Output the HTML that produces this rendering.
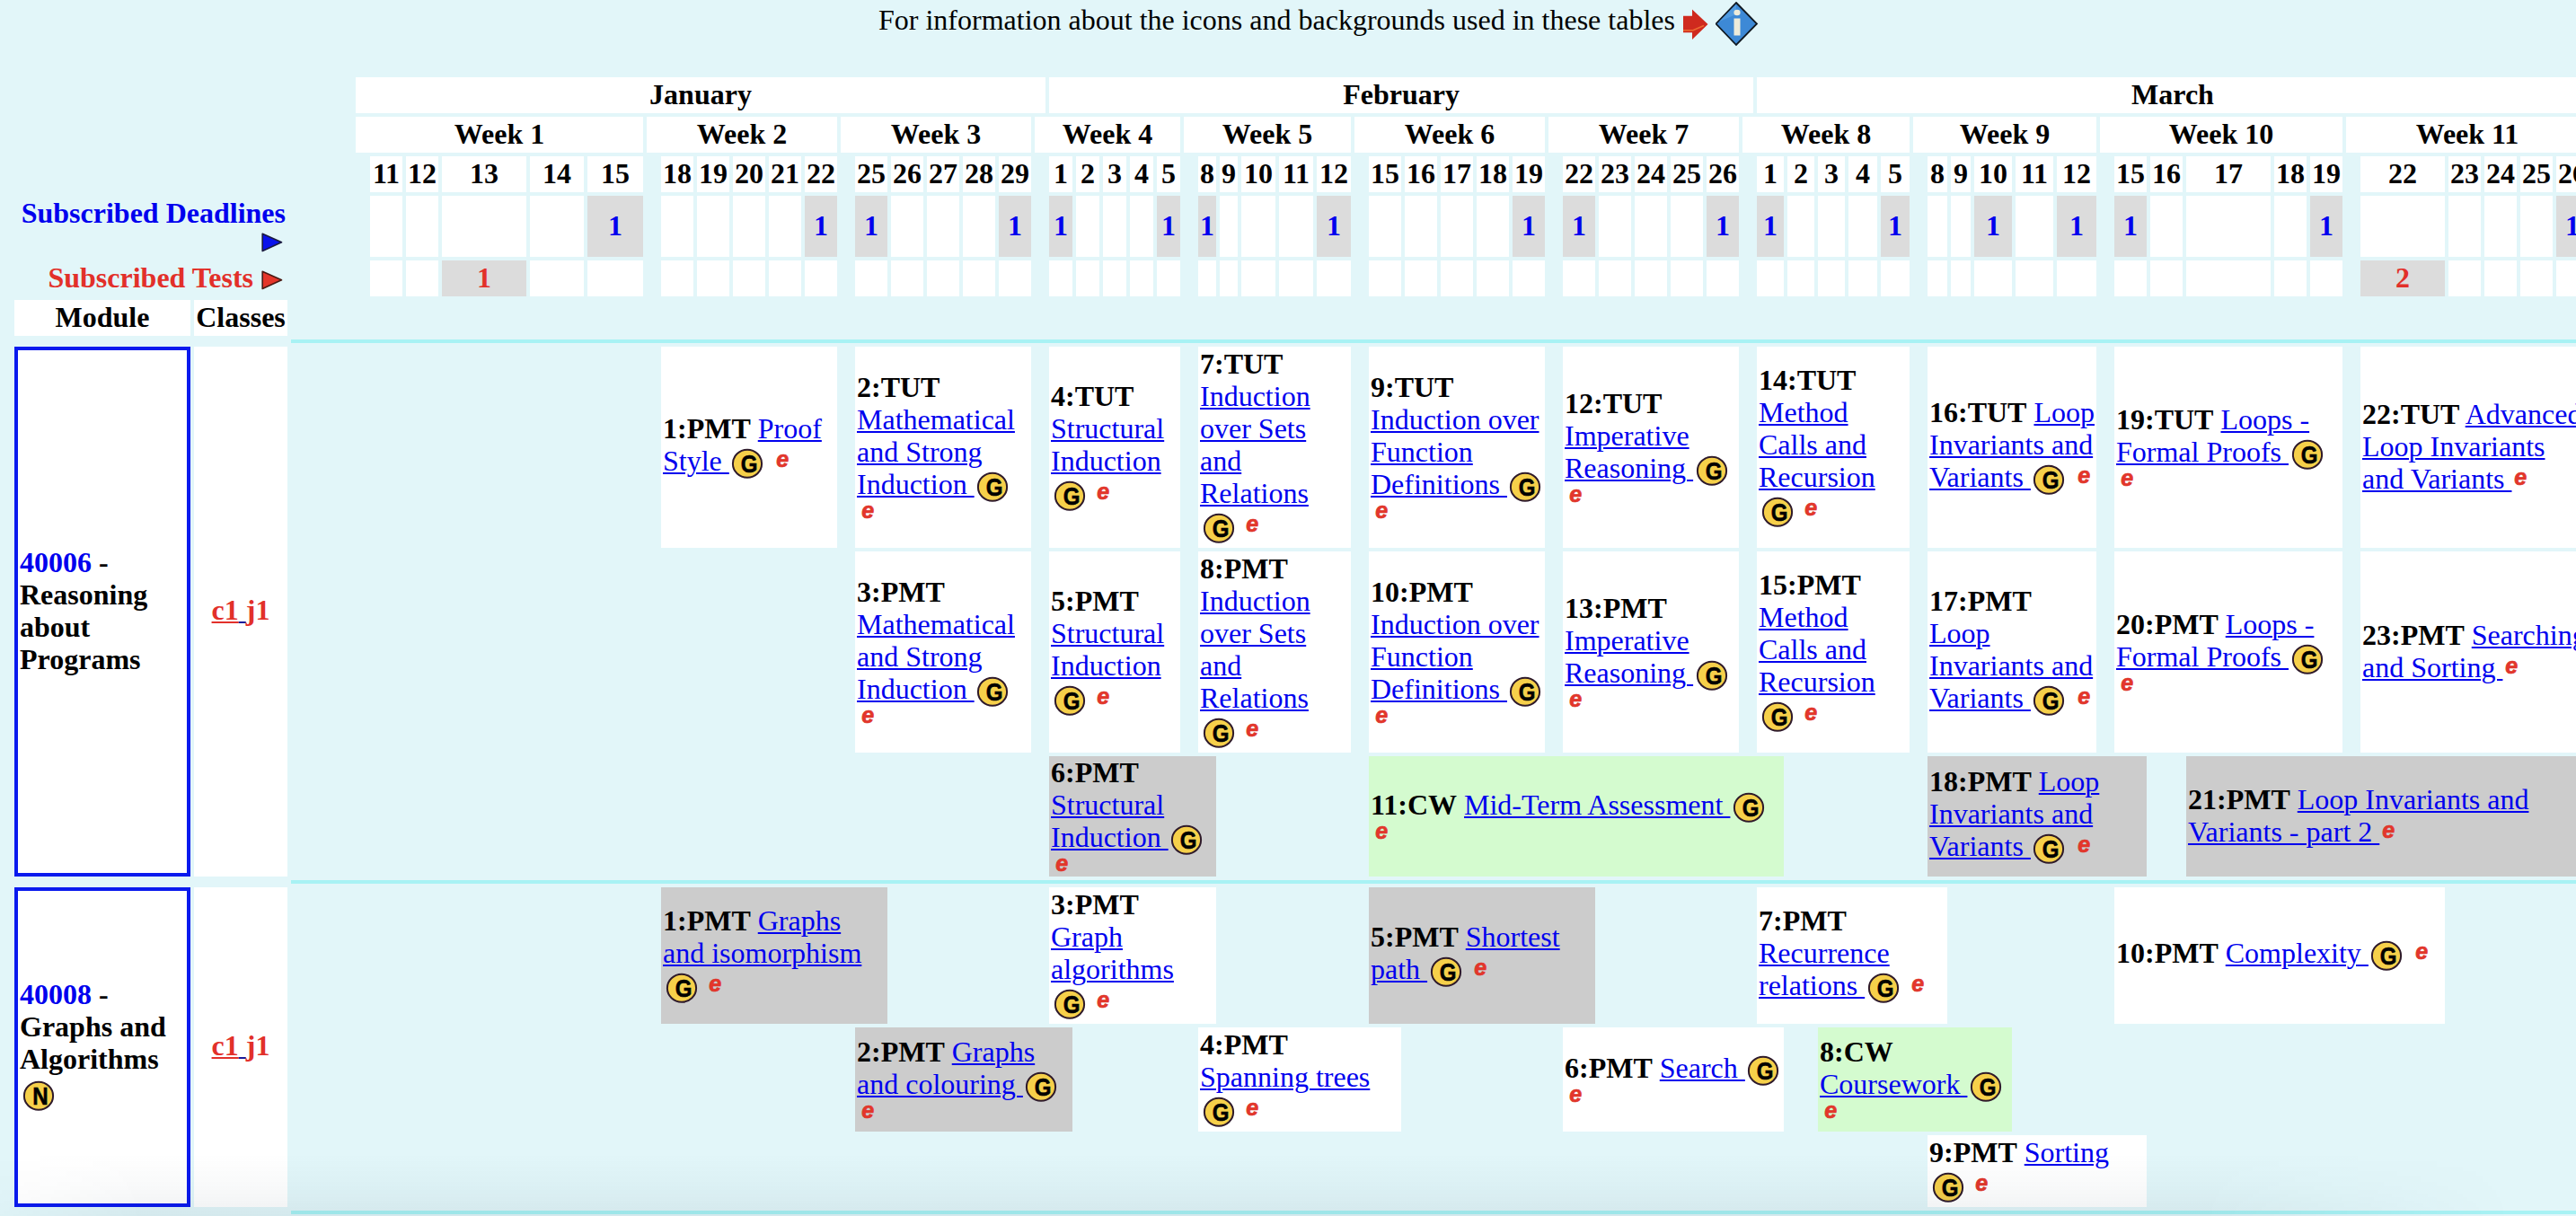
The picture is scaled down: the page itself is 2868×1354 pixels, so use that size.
<!DOCTYPE html>
<html><head><meta charset="utf-8"><title>Timetable</title><style>
html,body{margin:0;padding:0;}
body{width:2868px;height:1354px;overflow:hidden;position:relative;background:#E2F6F9;font-family:"Liberation Serif",serif;font-size:32px;line-height:36px;color:#000;}
.r,.c,.h,.t,.ic{position:absolute;}
.c,.h{display:flex;align-items:center;box-sizing:border-box;overflow:hidden;}
.h{justify-content:center;}
.h > .in{position:relative;top:-1px;}
.c{padding-left:2px;}
.in{white-space:pre;}
.ln{height:36px;line-height:34.4px;white-space:pre;}
.icl{display:flex;align-items:center;}
.sp{display:inline-block;width:8px;}
.t{white-space:pre;font-weight:bold;}
.ic svg{display:block;}
.a{color:#0000EE;text-decoration:underline;text-decoration-thickness:2px;text-underline-offset:2px;}
.g{display:inline-block;width:34px;height:33px;vertical-align:-8.5px;margin:0 4px 0 3.5px;}
.icl .g{margin-left:3.5px;}
.g svg,.e svg,.e0 svg{display:block;}
.e{display:inline-block;width:18px;height:18px;vertical-align:2px;margin-left:1.5px;}
.icl .e{position:relative;top:-3px;margin-left:0;}
.e0{display:inline-block;width:18px;height:18px;margin-left:3.5px;position:relative;top:-1px;}
.mod{border:4px solid #0A1AEE;padding-left:2px;background:#fff;}
</style></head>
<body>
<div class="h" style="left:396px;top:86px;width:768px;height:40px;background:#FFFFFF;"><div class="in"><b>January</b></div></div>
<div class="h" style="left:1168px;top:86px;width:784px;height:40px;background:#FFFFFF;"><div class="in"><b>February</b></div></div>
<div class="h" style="left:1956px;top:86px;width:926px;height:40px;background:#FFFFFF;"><div class="in"><b>March</b></div></div>
<div class="h" style="left:396px;top:130px;width:320px;height:40px;background:#FFFFFF;"><div class="in"><b>Week 1</b></div></div>
<div class="h" style="left:412px;top:174px;width:36px;height:40px;background:#FFFFFF;"><div class="in"><b>11</b></div></div>
<div class="r" style="left:412px;top:218px;width:36px;height:68px;background:#FFFFFF;"></div>
<div class="r" style="left:412px;top:290px;width:36px;height:40px;background:#FFFFFF;"></div>
<div class="h" style="left:452px;top:174px;width:36px;height:40px;background:#FFFFFF;"><div class="in"><b>12</b></div></div>
<div class="r" style="left:452px;top:218px;width:36px;height:68px;background:#FFFFFF;"></div>
<div class="r" style="left:452px;top:290px;width:36px;height:40px;background:#FFFFFF;"></div>
<div class="h" style="left:492px;top:174px;width:94px;height:40px;background:#FFFFFF;"><div class="in"><b>13</b></div></div>
<div class="r" style="left:492px;top:218px;width:94px;height:68px;background:#FFFFFF;"></div>
<div class="h" style="left:492px;top:290px;width:94px;height:40px;background:#DCDCDC;"><div class="in"><b style="color:#E2302A">1</b></div></div>
<div class="h" style="left:590px;top:174px;width:60px;height:40px;background:#FFFFFF;"><div class="in"><b>14</b></div></div>
<div class="r" style="left:590px;top:218px;width:60px;height:68px;background:#FFFFFF;"></div>
<div class="r" style="left:590px;top:290px;width:60px;height:40px;background:#FFFFFF;"></div>
<div class="h" style="left:654px;top:174px;width:62px;height:40px;background:#FFFFFF;"><div class="in"><b>15</b></div></div>
<div class="h" style="left:654px;top:218px;width:62px;height:68px;background:#DCDCDC;"><div class="in"><b style="color:#0000EE">1</b></div></div>
<div class="r" style="left:654px;top:290px;width:62px;height:40px;background:#FFFFFF;"></div>
<div class="h" style="left:720px;top:130px;width:212px;height:40px;background:#FFFFFF;"><div class="in"><b>Week 2</b></div></div>
<div class="h" style="left:736px;top:174px;width:36px;height:40px;background:#FFFFFF;"><div class="in"><b>18</b></div></div>
<div class="r" style="left:736px;top:218px;width:36px;height:68px;background:#FFFFFF;"></div>
<div class="r" style="left:736px;top:290px;width:36px;height:40px;background:#FFFFFF;"></div>
<div class="h" style="left:776px;top:174px;width:36px;height:40px;background:#FFFFFF;"><div class="in"><b>19</b></div></div>
<div class="r" style="left:776px;top:218px;width:36px;height:68px;background:#FFFFFF;"></div>
<div class="r" style="left:776px;top:290px;width:36px;height:40px;background:#FFFFFF;"></div>
<div class="h" style="left:816px;top:174px;width:36px;height:40px;background:#FFFFFF;"><div class="in"><b>20</b></div></div>
<div class="r" style="left:816px;top:218px;width:36px;height:68px;background:#FFFFFF;"></div>
<div class="r" style="left:816px;top:290px;width:36px;height:40px;background:#FFFFFF;"></div>
<div class="h" style="left:856px;top:174px;width:36px;height:40px;background:#FFFFFF;"><div class="in"><b>21</b></div></div>
<div class="r" style="left:856px;top:218px;width:36px;height:68px;background:#FFFFFF;"></div>
<div class="r" style="left:856px;top:290px;width:36px;height:40px;background:#FFFFFF;"></div>
<div class="h" style="left:896px;top:174px;width:36px;height:40px;background:#FFFFFF;"><div class="in"><b>22</b></div></div>
<div class="h" style="left:896px;top:218px;width:36px;height:68px;background:#DCDCDC;"><div class="in"><b style="color:#0000EE">1</b></div></div>
<div class="r" style="left:896px;top:290px;width:36px;height:40px;background:#FFFFFF;"></div>
<div class="h" style="left:936px;top:130px;width:212px;height:40px;background:#FFFFFF;"><div class="in"><b>Week 3</b></div></div>
<div class="h" style="left:952px;top:174px;width:36px;height:40px;background:#FFFFFF;"><div class="in"><b>25</b></div></div>
<div class="h" style="left:952px;top:218px;width:36px;height:68px;background:#DCDCDC;"><div class="in"><b style="color:#0000EE">1</b></div></div>
<div class="r" style="left:952px;top:290px;width:36px;height:40px;background:#FFFFFF;"></div>
<div class="h" style="left:992px;top:174px;width:36px;height:40px;background:#FFFFFF;"><div class="in"><b>26</b></div></div>
<div class="r" style="left:992px;top:218px;width:36px;height:68px;background:#FFFFFF;"></div>
<div class="r" style="left:992px;top:290px;width:36px;height:40px;background:#FFFFFF;"></div>
<div class="h" style="left:1032px;top:174px;width:36px;height:40px;background:#FFFFFF;"><div class="in"><b>27</b></div></div>
<div class="r" style="left:1032px;top:218px;width:36px;height:68px;background:#FFFFFF;"></div>
<div class="r" style="left:1032px;top:290px;width:36px;height:40px;background:#FFFFFF;"></div>
<div class="h" style="left:1072px;top:174px;width:36px;height:40px;background:#FFFFFF;"><div class="in"><b>28</b></div></div>
<div class="r" style="left:1072px;top:218px;width:36px;height:68px;background:#FFFFFF;"></div>
<div class="r" style="left:1072px;top:290px;width:36px;height:40px;background:#FFFFFF;"></div>
<div class="h" style="left:1112px;top:174px;width:36px;height:40px;background:#FFFFFF;"><div class="in"><b>29</b></div></div>
<div class="h" style="left:1112px;top:218px;width:36px;height:68px;background:#DCDCDC;"><div class="in"><b style="color:#0000EE">1</b></div></div>
<div class="r" style="left:1112px;top:290px;width:36px;height:40px;background:#FFFFFF;"></div>
<div class="h" style="left:1152px;top:130px;width:162px;height:40px;background:#FFFFFF;"><div class="in"><b>Week 4</b></div></div>
<div class="h" style="left:1168px;top:174px;width:26px;height:40px;background:#FFFFFF;"><div class="in"><b>1</b></div></div>
<div class="h" style="left:1168px;top:218px;width:26px;height:68px;background:#DCDCDC;"><div class="in"><b style="color:#0000EE">1</b></div></div>
<div class="r" style="left:1168px;top:290px;width:26px;height:40px;background:#FFFFFF;"></div>
<div class="h" style="left:1198px;top:174px;width:26px;height:40px;background:#FFFFFF;"><div class="in"><b>2</b></div></div>
<div class="r" style="left:1198px;top:218px;width:26px;height:68px;background:#FFFFFF;"></div>
<div class="r" style="left:1198px;top:290px;width:26px;height:40px;background:#FFFFFF;"></div>
<div class="h" style="left:1228px;top:174px;width:26px;height:40px;background:#FFFFFF;"><div class="in"><b>3</b></div></div>
<div class="r" style="left:1228px;top:218px;width:26px;height:68px;background:#FFFFFF;"></div>
<div class="r" style="left:1228px;top:290px;width:26px;height:40px;background:#FFFFFF;"></div>
<div class="h" style="left:1258px;top:174px;width:26px;height:40px;background:#FFFFFF;"><div class="in"><b>4</b></div></div>
<div class="r" style="left:1258px;top:218px;width:26px;height:68px;background:#FFFFFF;"></div>
<div class="r" style="left:1258px;top:290px;width:26px;height:40px;background:#FFFFFF;"></div>
<div class="h" style="left:1288px;top:174px;width:26px;height:40px;background:#FFFFFF;"><div class="in"><b>5</b></div></div>
<div class="h" style="left:1288px;top:218px;width:26px;height:68px;background:#DCDCDC;"><div class="in"><b style="color:#0000EE">1</b></div></div>
<div class="r" style="left:1288px;top:290px;width:26px;height:40px;background:#FFFFFF;"></div>
<div class="h" style="left:1318px;top:130px;width:186px;height:40px;background:#FFFFFF;"><div class="in"><b>Week 5</b></div></div>
<div class="h" style="left:1334px;top:174px;width:20px;height:40px;background:#FFFFFF;"><div class="in"><b>8</b></div></div>
<div class="h" style="left:1334px;top:218px;width:20px;height:68px;background:#DCDCDC;"><div class="in"><b style="color:#0000EE">1</b></div></div>
<div class="r" style="left:1334px;top:290px;width:20px;height:40px;background:#FFFFFF;"></div>
<div class="h" style="left:1358px;top:174px;width:20px;height:40px;background:#FFFFFF;"><div class="in"><b>9</b></div></div>
<div class="r" style="left:1358px;top:218px;width:20px;height:68px;background:#FFFFFF;"></div>
<div class="r" style="left:1358px;top:290px;width:20px;height:40px;background:#FFFFFF;"></div>
<div class="h" style="left:1382px;top:174px;width:38px;height:40px;background:#FFFFFF;"><div class="in"><b>10</b></div></div>
<div class="r" style="left:1382px;top:218px;width:38px;height:68px;background:#FFFFFF;"></div>
<div class="r" style="left:1382px;top:290px;width:38px;height:40px;background:#FFFFFF;"></div>
<div class="h" style="left:1424px;top:174px;width:38px;height:40px;background:#FFFFFF;"><div class="in"><b>11</b></div></div>
<div class="r" style="left:1424px;top:218px;width:38px;height:68px;background:#FFFFFF;"></div>
<div class="r" style="left:1424px;top:290px;width:38px;height:40px;background:#FFFFFF;"></div>
<div class="h" style="left:1466px;top:174px;width:38px;height:40px;background:#FFFFFF;"><div class="in"><b>12</b></div></div>
<div class="h" style="left:1466px;top:218px;width:38px;height:68px;background:#DCDCDC;"><div class="in"><b style="color:#0000EE">1</b></div></div>
<div class="r" style="left:1466px;top:290px;width:38px;height:40px;background:#FFFFFF;"></div>
<div class="h" style="left:1508px;top:130px;width:212px;height:40px;background:#FFFFFF;"><div class="in"><b>Week 6</b></div></div>
<div class="h" style="left:1524px;top:174px;width:36px;height:40px;background:#FFFFFF;"><div class="in"><b>15</b></div></div>
<div class="r" style="left:1524px;top:218px;width:36px;height:68px;background:#FFFFFF;"></div>
<div class="r" style="left:1524px;top:290px;width:36px;height:40px;background:#FFFFFF;"></div>
<div class="h" style="left:1564px;top:174px;width:36px;height:40px;background:#FFFFFF;"><div class="in"><b>16</b></div></div>
<div class="r" style="left:1564px;top:218px;width:36px;height:68px;background:#FFFFFF;"></div>
<div class="r" style="left:1564px;top:290px;width:36px;height:40px;background:#FFFFFF;"></div>
<div class="h" style="left:1604px;top:174px;width:36px;height:40px;background:#FFFFFF;"><div class="in"><b>17</b></div></div>
<div class="r" style="left:1604px;top:218px;width:36px;height:68px;background:#FFFFFF;"></div>
<div class="r" style="left:1604px;top:290px;width:36px;height:40px;background:#FFFFFF;"></div>
<div class="h" style="left:1644px;top:174px;width:36px;height:40px;background:#FFFFFF;"><div class="in"><b>18</b></div></div>
<div class="r" style="left:1644px;top:218px;width:36px;height:68px;background:#FFFFFF;"></div>
<div class="r" style="left:1644px;top:290px;width:36px;height:40px;background:#FFFFFF;"></div>
<div class="h" style="left:1684px;top:174px;width:36px;height:40px;background:#FFFFFF;"><div class="in"><b>19</b></div></div>
<div class="h" style="left:1684px;top:218px;width:36px;height:68px;background:#DCDCDC;"><div class="in"><b style="color:#0000EE">1</b></div></div>
<div class="r" style="left:1684px;top:290px;width:36px;height:40px;background:#FFFFFF;"></div>
<div class="h" style="left:1724px;top:130px;width:212px;height:40px;background:#FFFFFF;"><div class="in"><b>Week 7</b></div></div>
<div class="h" style="left:1740px;top:174px;width:36px;height:40px;background:#FFFFFF;"><div class="in"><b>22</b></div></div>
<div class="h" style="left:1740px;top:218px;width:36px;height:68px;background:#DCDCDC;"><div class="in"><b style="color:#0000EE">1</b></div></div>
<div class="r" style="left:1740px;top:290px;width:36px;height:40px;background:#FFFFFF;"></div>
<div class="h" style="left:1780px;top:174px;width:36px;height:40px;background:#FFFFFF;"><div class="in"><b>23</b></div></div>
<div class="r" style="left:1780px;top:218px;width:36px;height:68px;background:#FFFFFF;"></div>
<div class="r" style="left:1780px;top:290px;width:36px;height:40px;background:#FFFFFF;"></div>
<div class="h" style="left:1820px;top:174px;width:36px;height:40px;background:#FFFFFF;"><div class="in"><b>24</b></div></div>
<div class="r" style="left:1820px;top:218px;width:36px;height:68px;background:#FFFFFF;"></div>
<div class="r" style="left:1820px;top:290px;width:36px;height:40px;background:#FFFFFF;"></div>
<div class="h" style="left:1860px;top:174px;width:36px;height:40px;background:#FFFFFF;"><div class="in"><b>25</b></div></div>
<div class="r" style="left:1860px;top:218px;width:36px;height:68px;background:#FFFFFF;"></div>
<div class="r" style="left:1860px;top:290px;width:36px;height:40px;background:#FFFFFF;"></div>
<div class="h" style="left:1900px;top:174px;width:36px;height:40px;background:#FFFFFF;"><div class="in"><b>26</b></div></div>
<div class="h" style="left:1900px;top:218px;width:36px;height:68px;background:#DCDCDC;"><div class="in"><b style="color:#0000EE">1</b></div></div>
<div class="r" style="left:1900px;top:290px;width:36px;height:40px;background:#FFFFFF;"></div>
<div class="h" style="left:1940px;top:130px;width:186px;height:40px;background:#FFFFFF;"><div class="in"><b>Week 8</b></div></div>
<div class="h" style="left:1956px;top:174px;width:30px;height:40px;background:#FFFFFF;"><div class="in"><b>1</b></div></div>
<div class="h" style="left:1956px;top:218px;width:30px;height:68px;background:#DCDCDC;"><div class="in"><b style="color:#0000EE">1</b></div></div>
<div class="r" style="left:1956px;top:290px;width:30px;height:40px;background:#FFFFFF;"></div>
<div class="h" style="left:1990px;top:174px;width:30px;height:40px;background:#FFFFFF;"><div class="in"><b>2</b></div></div>
<div class="r" style="left:1990px;top:218px;width:30px;height:68px;background:#FFFFFF;"></div>
<div class="r" style="left:1990px;top:290px;width:30px;height:40px;background:#FFFFFF;"></div>
<div class="h" style="left:2024px;top:174px;width:30px;height:40px;background:#FFFFFF;"><div class="in"><b>3</b></div></div>
<div class="r" style="left:2024px;top:218px;width:30px;height:68px;background:#FFFFFF;"></div>
<div class="r" style="left:2024px;top:290px;width:30px;height:40px;background:#FFFFFF;"></div>
<div class="h" style="left:2058px;top:174px;width:32px;height:40px;background:#FFFFFF;"><div class="in"><b>4</b></div></div>
<div class="r" style="left:2058px;top:218px;width:32px;height:68px;background:#FFFFFF;"></div>
<div class="r" style="left:2058px;top:290px;width:32px;height:40px;background:#FFFFFF;"></div>
<div class="h" style="left:2094px;top:174px;width:32px;height:40px;background:#FFFFFF;"><div class="in"><b>5</b></div></div>
<div class="h" style="left:2094px;top:218px;width:32px;height:68px;background:#DCDCDC;"><div class="in"><b style="color:#0000EE">1</b></div></div>
<div class="r" style="left:2094px;top:290px;width:32px;height:40px;background:#FFFFFF;"></div>
<div class="h" style="left:2130px;top:130px;width:204px;height:40px;background:#FFFFFF;"><div class="in"><b>Week 9</b></div></div>
<div class="h" style="left:2146px;top:174px;width:22px;height:40px;background:#FFFFFF;"><div class="in"><b>8</b></div></div>
<div class="r" style="left:2146px;top:218px;width:22px;height:68px;background:#FFFFFF;"></div>
<div class="r" style="left:2146px;top:290px;width:22px;height:40px;background:#FFFFFF;"></div>
<div class="h" style="left:2172px;top:174px;width:22px;height:40px;background:#FFFFFF;"><div class="in"><b>9</b></div></div>
<div class="r" style="left:2172px;top:218px;width:22px;height:68px;background:#FFFFFF;"></div>
<div class="r" style="left:2172px;top:290px;width:22px;height:40px;background:#FFFFFF;"></div>
<div class="h" style="left:2198px;top:174px;width:42px;height:40px;background:#FFFFFF;"><div class="in"><b>10</b></div></div>
<div class="h" style="left:2198px;top:218px;width:42px;height:68px;background:#DCDCDC;"><div class="in"><b style="color:#0000EE">1</b></div></div>
<div class="r" style="left:2198px;top:290px;width:42px;height:40px;background:#FFFFFF;"></div>
<div class="h" style="left:2244px;top:174px;width:42px;height:40px;background:#FFFFFF;"><div class="in"><b>11</b></div></div>
<div class="r" style="left:2244px;top:218px;width:42px;height:68px;background:#FFFFFF;"></div>
<div class="r" style="left:2244px;top:290px;width:42px;height:40px;background:#FFFFFF;"></div>
<div class="h" style="left:2290px;top:174px;width:44px;height:40px;background:#FFFFFF;"><div class="in"><b>12</b></div></div>
<div class="h" style="left:2290px;top:218px;width:44px;height:68px;background:#DCDCDC;"><div class="in"><b style="color:#0000EE">1</b></div></div>
<div class="r" style="left:2290px;top:290px;width:44px;height:40px;background:#FFFFFF;"></div>
<div class="h" style="left:2338px;top:130px;width:270px;height:40px;background:#FFFFFF;"><div class="in"><b>Week 10</b></div></div>
<div class="h" style="left:2354px;top:174px;width:36px;height:40px;background:#FFFFFF;"><div class="in"><b>15</b></div></div>
<div class="h" style="left:2354px;top:218px;width:36px;height:68px;background:#DCDCDC;"><div class="in"><b style="color:#0000EE">1</b></div></div>
<div class="r" style="left:2354px;top:290px;width:36px;height:40px;background:#FFFFFF;"></div>
<div class="h" style="left:2394px;top:174px;width:36px;height:40px;background:#FFFFFF;"><div class="in"><b>16</b></div></div>
<div class="r" style="left:2394px;top:218px;width:36px;height:68px;background:#FFFFFF;"></div>
<div class="r" style="left:2394px;top:290px;width:36px;height:40px;background:#FFFFFF;"></div>
<div class="h" style="left:2434px;top:174px;width:94px;height:40px;background:#FFFFFF;"><div class="in"><b>17</b></div></div>
<div class="r" style="left:2434px;top:218px;width:94px;height:68px;background:#FFFFFF;"></div>
<div class="r" style="left:2434px;top:290px;width:94px;height:40px;background:#FFFFFF;"></div>
<div class="h" style="left:2532px;top:174px;width:36px;height:40px;background:#FFFFFF;"><div class="in"><b>18</b></div></div>
<div class="r" style="left:2532px;top:218px;width:36px;height:68px;background:#FFFFFF;"></div>
<div class="r" style="left:2532px;top:290px;width:36px;height:40px;background:#FFFFFF;"></div>
<div class="h" style="left:2572px;top:174px;width:36px;height:40px;background:#FFFFFF;"><div class="in"><b>19</b></div></div>
<div class="h" style="left:2572px;top:218px;width:36px;height:68px;background:#DCDCDC;"><div class="in"><b style="color:#0000EE">1</b></div></div>
<div class="r" style="left:2572px;top:290px;width:36px;height:40px;background:#FFFFFF;"></div>
<div class="h" style="left:2612px;top:130px;width:270px;height:40px;background:#FFFFFF;"><div class="in"><b>Week 11</b></div></div>
<div class="h" style="left:2628px;top:174px;width:94px;height:40px;background:#FFFFFF;"><div class="in"><b>22</b></div></div>
<div class="r" style="left:2628px;top:218px;width:94px;height:68px;background:#FFFFFF;"></div>
<div class="h" style="left:2628px;top:290px;width:94px;height:40px;background:#DCDCDC;"><div class="in"><b style="color:#E2302A">2</b></div></div>
<div class="h" style="left:2726px;top:174px;width:36px;height:40px;background:#FFFFFF;"><div class="in"><b>23</b></div></div>
<div class="r" style="left:2726px;top:218px;width:36px;height:68px;background:#FFFFFF;"></div>
<div class="r" style="left:2726px;top:290px;width:36px;height:40px;background:#FFFFFF;"></div>
<div class="h" style="left:2766px;top:174px;width:36px;height:40px;background:#FFFFFF;"><div class="in"><b>24</b></div></div>
<div class="r" style="left:2766px;top:218px;width:36px;height:68px;background:#FFFFFF;"></div>
<div class="r" style="left:2766px;top:290px;width:36px;height:40px;background:#FFFFFF;"></div>
<div class="h" style="left:2806px;top:174px;width:36px;height:40px;background:#FFFFFF;"><div class="in"><b>25</b></div></div>
<div class="r" style="left:2806px;top:218px;width:36px;height:68px;background:#FFFFFF;"></div>
<div class="r" style="left:2806px;top:290px;width:36px;height:40px;background:#FFFFFF;"></div>
<div class="h" style="left:2846px;top:174px;width:36px;height:40px;background:#FFFFFF;"><div class="in"><b>26</b></div></div>
<div class="h" style="left:2846px;top:218px;width:36px;height:68px;background:#DCDCDC;"><div class="in"><b style="color:#0000EE">1</b></div></div>
<div class="r" style="left:2846px;top:290px;width:36px;height:40px;background:#FFFFFF;"></div>
<div class="t" style="left:0px;width:318px;top:219px;text-align:right;color:#0000EE"><b>Subscribed Deadlines</b></div>
<div class="ic" style="left:291px;top:259px"><svg width="24" height="22" viewBox="0 0 24 22"><polygon points="1.2,1.2 22.5,10.8 1.2,20.5" fill="#0A12EA" stroke="#1a1a40" stroke-width="1.6" stroke-linejoin="round"/></svg></div>
<div class="t" style="left:0px;width:282px;top:291px;text-align:right;color:#E2302A"><b>Subscribed Tests</b></div>
<div class="ic" style="left:291px;top:301px"><svg width="24" height="22" viewBox="0 0 24 22"><polygon points="1.2,1.2 22.5,10.8 1.2,20.5" fill="#E4362A" stroke="#4a1a14" stroke-width="1.6" stroke-linejoin="round"/></svg></div>
<div class="h" style="left:16px;top:334px;width:196px;height:40px;background:#FFFFFF;"><div class="in"><b>Module</b></div></div>
<div class="h" style="left:216px;top:334px;width:104px;height:40px;background:#FFFFFF;"><div class="in"><b>Classes</b></div></div>
<div class="r" style="left:324px;top:378px;width:2544px;height:4px;background:#A8F2F4;"></div>
<div class="r" style="left:324px;top:980px;width:2544px;height:4px;background:#A8F2F4;"></div>
<div class="r" style="left:324px;top:1348px;width:2544px;height:4px;background:#A8F2F4;"></div>
<div class="t" style="left:978px;top:4px;font-weight:normal">For information about the icons and backgrounds used in these tables</div>
<div class="ic" style="left:1873px;top:10px"><svg width="30" height="36" viewBox="0 0 30 36"><polygon points="1,7.8 11,7.8 11,0.5 28.5,17 11,34 11,26.2 1,26.2" fill="#CF2A1E"/><polyline points="1,23.8 12,23.8 24,18.5" fill="none" stroke="#EE6A30" stroke-width="1.6"/></svg></div>
<div class="ic" style="left:1910px;top:2px"><svg width="48" height="50" viewBox="0 0 48 50"><polygon points="23,1 46,24.5 23,48 0.5,24.5" fill="#3D89D6" stroke="#101820" stroke-width="1.8"/><polygon points="23,3 4,22 23,14" fill="#5FA6E8" opacity="0.6"/><ellipse cx="24" cy="12" rx="3.6" ry="3.3" fill="#EDEBDA"/><rect x="20.5" y="18.5" width="7" height="19" fill="#EDEBDA"/></svg></div>
<div class="c mod" style="left:16px;top:386px;width:196px;height:590px;"><div class="in"><div class="ln" style="height:36px"><b><span style="color:#0000EE">40006</span> -</b></div><div class="ln" style="height:36px"><b>Reasoning</b></div><div class="ln" style="height:36px"><b>about</b></div><div class="ln" style="height:36px"><b>Programs</b></div></div></div>
<div class="h" style="left:216px;top:386px;width:104px;height:590px;background:#FFFFFF;"><div class="in"><div class="ln"><b style="color:#E2302A"><span class="a" style="color:#E2302A">c1</span><span class="a" style="color:#1a1a9a"> </span>j1</b></div></div></div>
<div class="c mod" style="left:16px;top:988px;width:196px;height:356px;"><div class="in"><div class="ln" style="height:36px"><b><span style="color:#0000EE">40008</span> -</b></div><div class="ln" style="height:36px"><b>Graphs and</b></div><div class="ln" style="height:36px"><b>Algorithms</b></div><div class="icl" style="height:45px"><span class="g"><svg width="34" height="33" viewBox="0 0 34 33" style="overflow:visible"><ellipse cx="17" cy="16.3" rx="16.1" ry="15.5" fill="#F6D04A" stroke="#2e1a2a" stroke-width="2"/><text transform="translate(19 26.4) scale(0.86 1)" text-anchor="middle" font-family="Liberation Sans" font-weight="bold" font-size="28" fill="#000" stroke="#000" stroke-width="0.6">N</text></svg></span></div></div></div>
<div class="h" style="left:216px;top:988px;width:104px;height:356px;background:#FFFFFF;"><div class="in"><div class="ln"><b style="color:#E2302A"><span class="a" style="color:#E2302A">c1</span><span class="a" style="color:#1a1a9a"> </span>j1</b></div></div></div>
<div class="c" style="left:736px;top:386px;width:196px;height:224px;background:#FFFFFF;"><div class="in"><div class="ln" style="height:36px"><b>1:PMT</b> <span class="a">Proof</span></div><div class="ln" style="height:40px"><span class="a">Style </span><span class="g"><svg width="34" height="33" viewBox="0 0 34 33" style="overflow:visible"><ellipse cx="17" cy="16.3" rx="16.1" ry="15.5" fill="#F6D04A" stroke="#2e1a2a" stroke-width="2"/><text transform="translate(19 26.4) scale(0.86 1)" text-anchor="middle" font-family="Liberation Sans" font-weight="bold" font-size="28" fill="#000" stroke="#000" stroke-width="0.6">G</text></svg></span> <span class="e"><svg width="18" height="18" viewBox="0 0 18 18" style="overflow:visible"><text x="1.3" y="15.6" font-family="Liberation Sans" font-weight="bold" font-style="italic" font-size="25" fill="#E5362B" stroke="#D9332A" stroke-width="0.7" stroke-linejoin="round">e</text></svg></span></div></div></div>
<div class="c" style="left:952px;top:386px;width:196px;height:224px;background:#FFFFFF;"><div class="in"><div class="ln" style="height:36px"><b>2:TUT</b></div><div class="ln" style="height:36px"><span class="a">Mathematical</span></div><div class="ln" style="height:36px"><span class="a">and Strong</span></div><div class="ln" style="height:40px"><span class="a">Induction </span><span class="g"><svg width="34" height="33" viewBox="0 0 34 33" style="overflow:visible"><ellipse cx="17" cy="16.3" rx="16.1" ry="15.5" fill="#F6D04A" stroke="#2e1a2a" stroke-width="2"/><text transform="translate(19 26.4) scale(0.86 1)" text-anchor="middle" font-family="Liberation Sans" font-weight="bold" font-size="28" fill="#000" stroke="#000" stroke-width="0.6">G</text></svg></span></div><div class="icl" style="height:20px;align-items:flex-start"><span class="e0"><svg width="18" height="18" viewBox="0 0 18 18" style="overflow:visible"><text x="1.3" y="15.6" font-family="Liberation Sans" font-weight="bold" font-style="italic" font-size="25" fill="#E5362B" stroke="#D9332A" stroke-width="0.7" stroke-linejoin="round">e</text></svg></span></div></div></div>
<div class="c" style="left:1168px;top:386px;width:146px;height:224px;background:#FFFFFF;"><div class="in"><div class="ln" style="height:36px"><b>4:TUT</b></div><div class="ln" style="height:36px"><span class="a">Structural</span></div><div class="ln" style="height:36px"><span class="a">Induction</span></div><div class="icl" style="height:40px"><span class="g"><svg width="34" height="33" viewBox="0 0 34 33" style="overflow:visible"><ellipse cx="17" cy="16.3" rx="16.1" ry="15.5" fill="#F6D04A" stroke="#2e1a2a" stroke-width="2"/><text transform="translate(19 26.4) scale(0.86 1)" text-anchor="middle" font-family="Liberation Sans" font-weight="bold" font-size="28" fill="#000" stroke="#000" stroke-width="0.6">G</text></svg></span><span class="sp"></span><span class="e"><svg width="18" height="18" viewBox="0 0 18 18" style="overflow:visible"><text x="1.3" y="15.6" font-family="Liberation Sans" font-weight="bold" font-style="italic" font-size="25" fill="#E5362B" stroke="#D9332A" stroke-width="0.7" stroke-linejoin="round">e</text></svg></span></div></div></div>
<div class="c" style="left:1334px;top:386px;width:170px;height:224px;background:#FFFFFF;"><div class="in"><div class="ln" style="height:36px"><b>7:TUT</b></div><div class="ln" style="height:36px"><span class="a">Induction</span></div><div class="ln" style="height:36px"><span class="a">over Sets</span></div><div class="ln" style="height:36px"><span class="a">and</span></div><div class="ln" style="height:36px"><span class="a">Relations</span></div><div class="icl" style="height:40px"><span class="g"><svg width="34" height="33" viewBox="0 0 34 33" style="overflow:visible"><ellipse cx="17" cy="16.3" rx="16.1" ry="15.5" fill="#F6D04A" stroke="#2e1a2a" stroke-width="2"/><text transform="translate(19 26.4) scale(0.86 1)" text-anchor="middle" font-family="Liberation Sans" font-weight="bold" font-size="28" fill="#000" stroke="#000" stroke-width="0.6">G</text></svg></span><span class="sp"></span><span class="e"><svg width="18" height="18" viewBox="0 0 18 18" style="overflow:visible"><text x="1.3" y="15.6" font-family="Liberation Sans" font-weight="bold" font-style="italic" font-size="25" fill="#E5362B" stroke="#D9332A" stroke-width="0.7" stroke-linejoin="round">e</text></svg></span></div></div></div>
<div class="c" style="left:1524px;top:386px;width:196px;height:224px;background:#FFFFFF;"><div class="in"><div class="ln" style="height:36px"><b>9:TUT</b></div><div class="ln" style="height:36px"><span class="a">Induction over</span></div><div class="ln" style="height:36px"><span class="a">Function</span></div><div class="ln" style="height:40px"><span class="a">Definitions </span><span class="g"><svg width="34" height="33" viewBox="0 0 34 33" style="overflow:visible"><ellipse cx="17" cy="16.3" rx="16.1" ry="15.5" fill="#F6D04A" stroke="#2e1a2a" stroke-width="2"/><text transform="translate(19 26.4) scale(0.86 1)" text-anchor="middle" font-family="Liberation Sans" font-weight="bold" font-size="28" fill="#000" stroke="#000" stroke-width="0.6">G</text></svg></span></div><div class="icl" style="height:20px;align-items:flex-start"><span class="e0"><svg width="18" height="18" viewBox="0 0 18 18" style="overflow:visible"><text x="1.3" y="15.6" font-family="Liberation Sans" font-weight="bold" font-style="italic" font-size="25" fill="#E5362B" stroke="#D9332A" stroke-width="0.7" stroke-linejoin="round">e</text></svg></span></div></div></div>
<div class="c" style="left:1740px;top:386px;width:196px;height:224px;background:#FFFFFF;"><div class="in"><div class="ln" style="height:36px"><b>12:TUT</b></div><div class="ln" style="height:36px"><span class="a">Imperative</span></div><div class="ln" style="height:40px"><span class="a">Reasoning </span><span class="g"><svg width="34" height="33" viewBox="0 0 34 33" style="overflow:visible"><ellipse cx="17" cy="16.3" rx="16.1" ry="15.5" fill="#F6D04A" stroke="#2e1a2a" stroke-width="2"/><text transform="translate(19 26.4) scale(0.86 1)" text-anchor="middle" font-family="Liberation Sans" font-weight="bold" font-size="28" fill="#000" stroke="#000" stroke-width="0.6">G</text></svg></span></div><div class="icl" style="height:20px;align-items:flex-start"><span class="e0"><svg width="18" height="18" viewBox="0 0 18 18" style="overflow:visible"><text x="1.3" y="15.6" font-family="Liberation Sans" font-weight="bold" font-style="italic" font-size="25" fill="#E5362B" stroke="#D9332A" stroke-width="0.7" stroke-linejoin="round">e</text></svg></span></div></div></div>
<div class="c" style="left:1956px;top:386px;width:170px;height:224px;background:#FFFFFF;"><div class="in"><div class="ln" style="height:36px"><b>14:TUT</b></div><div class="ln" style="height:36px"><span class="a">Method</span></div><div class="ln" style="height:36px"><span class="a">Calls and</span></div><div class="ln" style="height:36px"><span class="a">Recursion</span></div><div class="icl" style="height:40px"><span class="g"><svg width="34" height="33" viewBox="0 0 34 33" style="overflow:visible"><ellipse cx="17" cy="16.3" rx="16.1" ry="15.5" fill="#F6D04A" stroke="#2e1a2a" stroke-width="2"/><text transform="translate(19 26.4) scale(0.86 1)" text-anchor="middle" font-family="Liberation Sans" font-weight="bold" font-size="28" fill="#000" stroke="#000" stroke-width="0.6">G</text></svg></span><span class="sp"></span><span class="e"><svg width="18" height="18" viewBox="0 0 18 18" style="overflow:visible"><text x="1.3" y="15.6" font-family="Liberation Sans" font-weight="bold" font-style="italic" font-size="25" fill="#E5362B" stroke="#D9332A" stroke-width="0.7" stroke-linejoin="round">e</text></svg></span></div></div></div>
<div class="c" style="left:2146px;top:386px;width:188px;height:224px;background:#FFFFFF;"><div class="in"><div class="ln" style="height:36px"><b>16:TUT</b> <span class="a">Loop</span></div><div class="ln" style="height:36px"><span class="a">Invariants and</span></div><div class="ln" style="height:40px"><span class="a">Variants </span><span class="g"><svg width="34" height="33" viewBox="0 0 34 33" style="overflow:visible"><ellipse cx="17" cy="16.3" rx="16.1" ry="15.5" fill="#F6D04A" stroke="#2e1a2a" stroke-width="2"/><text transform="translate(19 26.4) scale(0.86 1)" text-anchor="middle" font-family="Liberation Sans" font-weight="bold" font-size="28" fill="#000" stroke="#000" stroke-width="0.6">G</text></svg></span> <span class="e"><svg width="18" height="18" viewBox="0 0 18 18" style="overflow:visible"><text x="1.3" y="15.6" font-family="Liberation Sans" font-weight="bold" font-style="italic" font-size="25" fill="#E5362B" stroke="#D9332A" stroke-width="0.7" stroke-linejoin="round">e</text></svg></span></div></div></div>
<div class="c" style="left:2354px;top:386px;width:254px;height:224px;background:#FFFFFF;"><div class="in"><div class="ln" style="height:36px"><b>19:TUT</b> <span class="a">Loops -</span></div><div class="ln" style="height:40px"><span class="a">Formal Proofs </span><span class="g"><svg width="34" height="33" viewBox="0 0 34 33" style="overflow:visible"><ellipse cx="17" cy="16.3" rx="16.1" ry="15.5" fill="#F6D04A" stroke="#2e1a2a" stroke-width="2"/><text transform="translate(19 26.4) scale(0.86 1)" text-anchor="middle" font-family="Liberation Sans" font-weight="bold" font-size="28" fill="#000" stroke="#000" stroke-width="0.6">G</text></svg></span></div><div class="icl" style="height:20px;align-items:flex-start"><span class="e0"><svg width="18" height="18" viewBox="0 0 18 18" style="overflow:visible"><text x="1.3" y="15.6" font-family="Liberation Sans" font-weight="bold" font-style="italic" font-size="25" fill="#E5362B" stroke="#D9332A" stroke-width="0.7" stroke-linejoin="round">e</text></svg></span></div></div></div>
<div class="c" style="left:2628px;top:386px;width:272px;height:224px;background:#FFFFFF;"><div class="in"><div class="ln" style="height:36px"><b>22:TUT</b> <span class="a">Advanced</span></div><div class="ln" style="height:36px"><span class="a">Loop Invariants</span></div><div class="ln" style="height:37px"><span class="a">and Variants </span><span class="e"><svg width="18" height="18" viewBox="0 0 18 18" style="overflow:visible"><text x="1.3" y="15.6" font-family="Liberation Sans" font-weight="bold" font-style="italic" font-size="25" fill="#E5362B" stroke="#D9332A" stroke-width="0.7" stroke-linejoin="round">e</text></svg></span></div></div></div>
<div class="c" style="left:952px;top:614px;width:196px;height:224px;background:#FFFFFF;"><div class="in"><div class="ln" style="height:36px"><b>3:PMT</b></div><div class="ln" style="height:36px"><span class="a">Mathematical</span></div><div class="ln" style="height:36px"><span class="a">and Strong</span></div><div class="ln" style="height:40px"><span class="a">Induction </span><span class="g"><svg width="34" height="33" viewBox="0 0 34 33" style="overflow:visible"><ellipse cx="17" cy="16.3" rx="16.1" ry="15.5" fill="#F6D04A" stroke="#2e1a2a" stroke-width="2"/><text transform="translate(19 26.4) scale(0.86 1)" text-anchor="middle" font-family="Liberation Sans" font-weight="bold" font-size="28" fill="#000" stroke="#000" stroke-width="0.6">G</text></svg></span></div><div class="icl" style="height:20px;align-items:flex-start"><span class="e0"><svg width="18" height="18" viewBox="0 0 18 18" style="overflow:visible"><text x="1.3" y="15.6" font-family="Liberation Sans" font-weight="bold" font-style="italic" font-size="25" fill="#E5362B" stroke="#D9332A" stroke-width="0.7" stroke-linejoin="round">e</text></svg></span></div></div></div>
<div class="c" style="left:1168px;top:614px;width:146px;height:224px;background:#FFFFFF;"><div class="in"><div class="ln" style="height:36px"><b>5:PMT</b></div><div class="ln" style="height:36px"><span class="a">Structural</span></div><div class="ln" style="height:36px"><span class="a">Induction</span></div><div class="icl" style="height:40px"><span class="g"><svg width="34" height="33" viewBox="0 0 34 33" style="overflow:visible"><ellipse cx="17" cy="16.3" rx="16.1" ry="15.5" fill="#F6D04A" stroke="#2e1a2a" stroke-width="2"/><text transform="translate(19 26.4) scale(0.86 1)" text-anchor="middle" font-family="Liberation Sans" font-weight="bold" font-size="28" fill="#000" stroke="#000" stroke-width="0.6">G</text></svg></span><span class="sp"></span><span class="e"><svg width="18" height="18" viewBox="0 0 18 18" style="overflow:visible"><text x="1.3" y="15.6" font-family="Liberation Sans" font-weight="bold" font-style="italic" font-size="25" fill="#E5362B" stroke="#D9332A" stroke-width="0.7" stroke-linejoin="round">e</text></svg></span></div></div></div>
<div class="c" style="left:1334px;top:614px;width:170px;height:224px;background:#FFFFFF;"><div class="in"><div class="ln" style="height:36px"><b>8:PMT</b></div><div class="ln" style="height:36px"><span class="a">Induction</span></div><div class="ln" style="height:36px"><span class="a">over Sets</span></div><div class="ln" style="height:36px"><span class="a">and</span></div><div class="ln" style="height:36px"><span class="a">Relations</span></div><div class="icl" style="height:40px"><span class="g"><svg width="34" height="33" viewBox="0 0 34 33" style="overflow:visible"><ellipse cx="17" cy="16.3" rx="16.1" ry="15.5" fill="#F6D04A" stroke="#2e1a2a" stroke-width="2"/><text transform="translate(19 26.4) scale(0.86 1)" text-anchor="middle" font-family="Liberation Sans" font-weight="bold" font-size="28" fill="#000" stroke="#000" stroke-width="0.6">G</text></svg></span><span class="sp"></span><span class="e"><svg width="18" height="18" viewBox="0 0 18 18" style="overflow:visible"><text x="1.3" y="15.6" font-family="Liberation Sans" font-weight="bold" font-style="italic" font-size="25" fill="#E5362B" stroke="#D9332A" stroke-width="0.7" stroke-linejoin="round">e</text></svg></span></div></div></div>
<div class="c" style="left:1524px;top:614px;width:196px;height:224px;background:#FFFFFF;"><div class="in"><div class="ln" style="height:36px"><b>10:PMT</b></div><div class="ln" style="height:36px"><span class="a">Induction over</span></div><div class="ln" style="height:36px"><span class="a">Function</span></div><div class="ln" style="height:40px"><span class="a">Definitions </span><span class="g"><svg width="34" height="33" viewBox="0 0 34 33" style="overflow:visible"><ellipse cx="17" cy="16.3" rx="16.1" ry="15.5" fill="#F6D04A" stroke="#2e1a2a" stroke-width="2"/><text transform="translate(19 26.4) scale(0.86 1)" text-anchor="middle" font-family="Liberation Sans" font-weight="bold" font-size="28" fill="#000" stroke="#000" stroke-width="0.6">G</text></svg></span></div><div class="icl" style="height:20px;align-items:flex-start"><span class="e0"><svg width="18" height="18" viewBox="0 0 18 18" style="overflow:visible"><text x="1.3" y="15.6" font-family="Liberation Sans" font-weight="bold" font-style="italic" font-size="25" fill="#E5362B" stroke="#D9332A" stroke-width="0.7" stroke-linejoin="round">e</text></svg></span></div></div></div>
<div class="c" style="left:1740px;top:614px;width:196px;height:224px;background:#FFFFFF;"><div class="in"><div class="ln" style="height:36px"><b>13:PMT</b></div><div class="ln" style="height:36px"><span class="a">Imperative</span></div><div class="ln" style="height:40px"><span class="a">Reasoning </span><span class="g"><svg width="34" height="33" viewBox="0 0 34 33" style="overflow:visible"><ellipse cx="17" cy="16.3" rx="16.1" ry="15.5" fill="#F6D04A" stroke="#2e1a2a" stroke-width="2"/><text transform="translate(19 26.4) scale(0.86 1)" text-anchor="middle" font-family="Liberation Sans" font-weight="bold" font-size="28" fill="#000" stroke="#000" stroke-width="0.6">G</text></svg></span></div><div class="icl" style="height:20px;align-items:flex-start"><span class="e0"><svg width="18" height="18" viewBox="0 0 18 18" style="overflow:visible"><text x="1.3" y="15.6" font-family="Liberation Sans" font-weight="bold" font-style="italic" font-size="25" fill="#E5362B" stroke="#D9332A" stroke-width="0.7" stroke-linejoin="round">e</text></svg></span></div></div></div>
<div class="c" style="left:1956px;top:614px;width:170px;height:224px;background:#FFFFFF;"><div class="in"><div class="ln" style="height:36px"><b>15:PMT</b></div><div class="ln" style="height:36px"><span class="a">Method</span></div><div class="ln" style="height:36px"><span class="a">Calls and</span></div><div class="ln" style="height:36px"><span class="a">Recursion</span></div><div class="icl" style="height:40px"><span class="g"><svg width="34" height="33" viewBox="0 0 34 33" style="overflow:visible"><ellipse cx="17" cy="16.3" rx="16.1" ry="15.5" fill="#F6D04A" stroke="#2e1a2a" stroke-width="2"/><text transform="translate(19 26.4) scale(0.86 1)" text-anchor="middle" font-family="Liberation Sans" font-weight="bold" font-size="28" fill="#000" stroke="#000" stroke-width="0.6">G</text></svg></span><span class="sp"></span><span class="e"><svg width="18" height="18" viewBox="0 0 18 18" style="overflow:visible"><text x="1.3" y="15.6" font-family="Liberation Sans" font-weight="bold" font-style="italic" font-size="25" fill="#E5362B" stroke="#D9332A" stroke-width="0.7" stroke-linejoin="round">e</text></svg></span></div></div></div>
<div class="c" style="left:2146px;top:614px;width:188px;height:224px;background:#FFFFFF;"><div class="in"><div class="ln" style="height:36px"><b>17:PMT</b></div><div class="ln" style="height:36px"><span class="a">Loop</span></div><div class="ln" style="height:36px"><span class="a">Invariants and</span></div><div class="ln" style="height:40px"><span class="a">Variants </span><span class="g"><svg width="34" height="33" viewBox="0 0 34 33" style="overflow:visible"><ellipse cx="17" cy="16.3" rx="16.1" ry="15.5" fill="#F6D04A" stroke="#2e1a2a" stroke-width="2"/><text transform="translate(19 26.4) scale(0.86 1)" text-anchor="middle" font-family="Liberation Sans" font-weight="bold" font-size="28" fill="#000" stroke="#000" stroke-width="0.6">G</text></svg></span> <span class="e"><svg width="18" height="18" viewBox="0 0 18 18" style="overflow:visible"><text x="1.3" y="15.6" font-family="Liberation Sans" font-weight="bold" font-style="italic" font-size="25" fill="#E5362B" stroke="#D9332A" stroke-width="0.7" stroke-linejoin="round">e</text></svg></span></div></div></div>
<div class="c" style="left:2354px;top:614px;width:254px;height:224px;background:#FFFFFF;"><div class="in"><div class="ln" style="height:36px"><b>20:PMT</b> <span class="a">Loops -</span></div><div class="ln" style="height:40px"><span class="a">Formal Proofs </span><span class="g"><svg width="34" height="33" viewBox="0 0 34 33" style="overflow:visible"><ellipse cx="17" cy="16.3" rx="16.1" ry="15.5" fill="#F6D04A" stroke="#2e1a2a" stroke-width="2"/><text transform="translate(19 26.4) scale(0.86 1)" text-anchor="middle" font-family="Liberation Sans" font-weight="bold" font-size="28" fill="#000" stroke="#000" stroke-width="0.6">G</text></svg></span></div><div class="icl" style="height:20px;align-items:flex-start"><span class="e0"><svg width="18" height="18" viewBox="0 0 18 18" style="overflow:visible"><text x="1.3" y="15.6" font-family="Liberation Sans" font-weight="bold" font-style="italic" font-size="25" fill="#E5362B" stroke="#D9332A" stroke-width="0.7" stroke-linejoin="round">e</text></svg></span></div></div></div>
<div class="c" style="left:2628px;top:614px;width:272px;height:224px;background:#FFFFFF;"><div class="in"><div class="ln" style="height:36px"><b>23:PMT</b> <span class="a">Searching</span></div><div class="ln" style="height:37px"><span class="a">and Sorting </span><span class="e"><svg width="18" height="18" viewBox="0 0 18 18" style="overflow:visible"><text x="1.3" y="15.6" font-family="Liberation Sans" font-weight="bold" font-style="italic" font-size="25" fill="#E5362B" stroke="#D9332A" stroke-width="0.7" stroke-linejoin="round">e</text></svg></span></div></div></div>
<div class="c" style="left:1168px;top:842px;width:186px;height:134px;background:#CCCCCC;"><div class="in"><div class="ln" style="height:36px"><b>6:PMT</b></div><div class="ln" style="height:36px"><span class="a">Structural</span></div><div class="ln" style="height:40px"><span class="a">Induction </span><span class="g"><svg width="34" height="33" viewBox="0 0 34 33" style="overflow:visible"><ellipse cx="17" cy="16.3" rx="16.1" ry="15.5" fill="#F6D04A" stroke="#2e1a2a" stroke-width="2"/><text transform="translate(19 26.4) scale(0.86 1)" text-anchor="middle" font-family="Liberation Sans" font-weight="bold" font-size="28" fill="#000" stroke="#000" stroke-width="0.6">G</text></svg></span></div><div class="icl" style="height:20px;align-items:flex-start"><span class="e0"><svg width="18" height="18" viewBox="0 0 18 18" style="overflow:visible"><text x="1.3" y="15.6" font-family="Liberation Sans" font-weight="bold" font-style="italic" font-size="25" fill="#E5362B" stroke="#D9332A" stroke-width="0.7" stroke-linejoin="round">e</text></svg></span></div></div></div>
<div class="c" style="left:1524px;top:842px;width:462px;height:134px;background:#D4FBCF;"><div class="in"><div class="ln" style="height:40px"><b>11:CW</b> <span class="a">Mid-Term Assessment </span><span class="g"><svg width="34" height="33" viewBox="0 0 34 33" style="overflow:visible"><ellipse cx="17" cy="16.3" rx="16.1" ry="15.5" fill="#F6D04A" stroke="#2e1a2a" stroke-width="2"/><text transform="translate(19 26.4) scale(0.86 1)" text-anchor="middle" font-family="Liberation Sans" font-weight="bold" font-size="28" fill="#000" stroke="#000" stroke-width="0.6">G</text></svg></span></div><div class="icl" style="height:20px;align-items:flex-start"><span class="e0"><svg width="18" height="18" viewBox="0 0 18 18" style="overflow:visible"><text x="1.3" y="15.6" font-family="Liberation Sans" font-weight="bold" font-style="italic" font-size="25" fill="#E5362B" stroke="#D9332A" stroke-width="0.7" stroke-linejoin="round">e</text></svg></span></div></div></div>
<div class="c" style="left:2146px;top:842px;width:244px;height:134px;background:#CCCCCC;"><div class="in"><div class="ln" style="height:36px"><b>18:PMT</b> <span class="a">Loop</span></div><div class="ln" style="height:36px"><span class="a">Invariants and</span></div><div class="ln" style="height:40px"><span class="a">Variants </span><span class="g"><svg width="34" height="33" viewBox="0 0 34 33" style="overflow:visible"><ellipse cx="17" cy="16.3" rx="16.1" ry="15.5" fill="#F6D04A" stroke="#2e1a2a" stroke-width="2"/><text transform="translate(19 26.4) scale(0.86 1)" text-anchor="middle" font-family="Liberation Sans" font-weight="bold" font-size="28" fill="#000" stroke="#000" stroke-width="0.6">G</text></svg></span> <span class="e"><svg width="18" height="18" viewBox="0 0 18 18" style="overflow:visible"><text x="1.3" y="15.6" font-family="Liberation Sans" font-weight="bold" font-style="italic" font-size="25" fill="#E5362B" stroke="#D9332A" stroke-width="0.7" stroke-linejoin="round">e</text></svg></span></div></div></div>
<div class="c" style="left:2434px;top:842px;width:466px;height:134px;background:#CCCCCC;"><div class="in"><div class="ln" style="height:36px"><b>21:PMT</b> <span class="a">Loop Invariants and</span></div><div class="ln" style="height:37px"><span class="a">Variants - part 2 </span><span class="e"><svg width="18" height="18" viewBox="0 0 18 18" style="overflow:visible"><text x="1.3" y="15.6" font-family="Liberation Sans" font-weight="bold" font-style="italic" font-size="25" fill="#E5362B" stroke="#D9332A" stroke-width="0.7" stroke-linejoin="round">e</text></svg></span></div></div></div>
<div class="c" style="left:736px;top:988px;width:252px;height:152px;background:#CCCCCC;"><div class="in"><div class="ln" style="height:36px"><b>1:PMT</b> <span class="a">Graphs</span></div><div class="ln" style="height:36px"><span class="a">and isomorphism</span></div><div class="icl" style="height:40px"><span class="g"><svg width="34" height="33" viewBox="0 0 34 33" style="overflow:visible"><ellipse cx="17" cy="16.3" rx="16.1" ry="15.5" fill="#F6D04A" stroke="#2e1a2a" stroke-width="2"/><text transform="translate(19 26.4) scale(0.86 1)" text-anchor="middle" font-family="Liberation Sans" font-weight="bold" font-size="28" fill="#000" stroke="#000" stroke-width="0.6">G</text></svg></span><span class="sp"></span><span class="e"><svg width="18" height="18" viewBox="0 0 18 18" style="overflow:visible"><text x="1.3" y="15.6" font-family="Liberation Sans" font-weight="bold" font-style="italic" font-size="25" fill="#E5362B" stroke="#D9332A" stroke-width="0.7" stroke-linejoin="round">e</text></svg></span></div></div></div>
<div class="c" style="left:1168px;top:988px;width:186px;height:152px;background:#FFFFFF;"><div class="in"><div class="ln" style="height:36px"><b>3:PMT</b></div><div class="ln" style="height:36px"><span class="a">Graph</span></div><div class="ln" style="height:36px"><span class="a">algorithms</span></div><div class="icl" style="height:40px"><span class="g"><svg width="34" height="33" viewBox="0 0 34 33" style="overflow:visible"><ellipse cx="17" cy="16.3" rx="16.1" ry="15.5" fill="#F6D04A" stroke="#2e1a2a" stroke-width="2"/><text transform="translate(19 26.4) scale(0.86 1)" text-anchor="middle" font-family="Liberation Sans" font-weight="bold" font-size="28" fill="#000" stroke="#000" stroke-width="0.6">G</text></svg></span><span class="sp"></span><span class="e"><svg width="18" height="18" viewBox="0 0 18 18" style="overflow:visible"><text x="1.3" y="15.6" font-family="Liberation Sans" font-weight="bold" font-style="italic" font-size="25" fill="#E5362B" stroke="#D9332A" stroke-width="0.7" stroke-linejoin="round">e</text></svg></span></div></div></div>
<div class="c" style="left:1524px;top:988px;width:252px;height:152px;background:#CCCCCC;"><div class="in"><div class="ln" style="height:36px"><b>5:PMT</b> <span class="a">Shortest</span></div><div class="ln" style="height:40px"><span class="a">path </span><span class="g"><svg width="34" height="33" viewBox="0 0 34 33" style="overflow:visible"><ellipse cx="17" cy="16.3" rx="16.1" ry="15.5" fill="#F6D04A" stroke="#2e1a2a" stroke-width="2"/><text transform="translate(19 26.4) scale(0.86 1)" text-anchor="middle" font-family="Liberation Sans" font-weight="bold" font-size="28" fill="#000" stroke="#000" stroke-width="0.6">G</text></svg></span> <span class="e"><svg width="18" height="18" viewBox="0 0 18 18" style="overflow:visible"><text x="1.3" y="15.6" font-family="Liberation Sans" font-weight="bold" font-style="italic" font-size="25" fill="#E5362B" stroke="#D9332A" stroke-width="0.7" stroke-linejoin="round">e</text></svg></span></div></div></div>
<div class="c" style="left:1956px;top:988px;width:212px;height:152px;background:#FFFFFF;"><div class="in"><div class="ln" style="height:36px"><b>7:PMT</b></div><div class="ln" style="height:36px"><span class="a">Recurrence</span></div><div class="ln" style="height:40px"><span class="a">relations </span><span class="g"><svg width="34" height="33" viewBox="0 0 34 33" style="overflow:visible"><ellipse cx="17" cy="16.3" rx="16.1" ry="15.5" fill="#F6D04A" stroke="#2e1a2a" stroke-width="2"/><text transform="translate(19 26.4) scale(0.86 1)" text-anchor="middle" font-family="Liberation Sans" font-weight="bold" font-size="28" fill="#000" stroke="#000" stroke-width="0.6">G</text></svg></span> <span class="e"><svg width="18" height="18" viewBox="0 0 18 18" style="overflow:visible"><text x="1.3" y="15.6" font-family="Liberation Sans" font-weight="bold" font-style="italic" font-size="25" fill="#E5362B" stroke="#D9332A" stroke-width="0.7" stroke-linejoin="round">e</text></svg></span></div></div></div>
<div class="c" style="left:2354px;top:988px;width:368px;height:152px;background:#FFFFFF;"><div class="in"><div class="ln" style="height:40px"><b>10:PMT</b> <span class="a">Complexity </span><span class="g"><svg width="34" height="33" viewBox="0 0 34 33" style="overflow:visible"><ellipse cx="17" cy="16.3" rx="16.1" ry="15.5" fill="#F6D04A" stroke="#2e1a2a" stroke-width="2"/><text transform="translate(19 26.4) scale(0.86 1)" text-anchor="middle" font-family="Liberation Sans" font-weight="bold" font-size="28" fill="#000" stroke="#000" stroke-width="0.6">G</text></svg></span> <span class="e"><svg width="18" height="18" viewBox="0 0 18 18" style="overflow:visible"><text x="1.3" y="15.6" font-family="Liberation Sans" font-weight="bold" font-style="italic" font-size="25" fill="#E5362B" stroke="#D9332A" stroke-width="0.7" stroke-linejoin="round">e</text></svg></span></div></div></div>
<div class="c" style="left:952px;top:1144px;width:242px;height:116px;background:#CCCCCC;"><div class="in"><div class="ln" style="height:36px"><b>2:PMT</b> <span class="a">Graphs</span></div><div class="ln" style="height:40px"><span class="a">and colouring </span><span class="g"><svg width="34" height="33" viewBox="0 0 34 33" style="overflow:visible"><ellipse cx="17" cy="16.3" rx="16.1" ry="15.5" fill="#F6D04A" stroke="#2e1a2a" stroke-width="2"/><text transform="translate(19 26.4) scale(0.86 1)" text-anchor="middle" font-family="Liberation Sans" font-weight="bold" font-size="28" fill="#000" stroke="#000" stroke-width="0.6">G</text></svg></span></div><div class="icl" style="height:20px;align-items:flex-start"><span class="e0"><svg width="18" height="18" viewBox="0 0 18 18" style="overflow:visible"><text x="1.3" y="15.6" font-family="Liberation Sans" font-weight="bold" font-style="italic" font-size="25" fill="#E5362B" stroke="#D9332A" stroke-width="0.7" stroke-linejoin="round">e</text></svg></span></div></div></div>
<div class="c" style="left:1334px;top:1144px;width:226px;height:116px;background:#FFFFFF;"><div class="in"><div class="ln" style="height:36px"><b>4:PMT</b></div><div class="ln" style="height:36px"><span class="a">Spanning trees</span></div><div class="icl" style="height:40px"><span class="g"><svg width="34" height="33" viewBox="0 0 34 33" style="overflow:visible"><ellipse cx="17" cy="16.3" rx="16.1" ry="15.5" fill="#F6D04A" stroke="#2e1a2a" stroke-width="2"/><text transform="translate(19 26.4) scale(0.86 1)" text-anchor="middle" font-family="Liberation Sans" font-weight="bold" font-size="28" fill="#000" stroke="#000" stroke-width="0.6">G</text></svg></span><span class="sp"></span><span class="e"><svg width="18" height="18" viewBox="0 0 18 18" style="overflow:visible"><text x="1.3" y="15.6" font-family="Liberation Sans" font-weight="bold" font-style="italic" font-size="25" fill="#E5362B" stroke="#D9332A" stroke-width="0.7" stroke-linejoin="round">e</text></svg></span></div></div></div>
<div class="c" style="left:1740px;top:1144px;width:246px;height:116px;background:#FFFFFF;"><div class="in"><div class="ln" style="height:40px"><b>6:PMT</b> <span class="a">Search </span><span class="g"><svg width="34" height="33" viewBox="0 0 34 33" style="overflow:visible"><ellipse cx="17" cy="16.3" rx="16.1" ry="15.5" fill="#F6D04A" stroke="#2e1a2a" stroke-width="2"/><text transform="translate(19 26.4) scale(0.86 1)" text-anchor="middle" font-family="Liberation Sans" font-weight="bold" font-size="28" fill="#000" stroke="#000" stroke-width="0.6">G</text></svg></span></div><div class="icl" style="height:20px;align-items:flex-start"><span class="e0"><svg width="18" height="18" viewBox="0 0 18 18" style="overflow:visible"><text x="1.3" y="15.6" font-family="Liberation Sans" font-weight="bold" font-style="italic" font-size="25" fill="#E5362B" stroke="#D9332A" stroke-width="0.7" stroke-linejoin="round">e</text></svg></span></div></div></div>
<div class="c" style="left:2024px;top:1144px;width:216px;height:116px;background:#D4FBCF;"><div class="in"><div class="ln" style="height:36px"><b>8:CW</b></div><div class="ln" style="height:40px"><span class="a">Coursework </span><span class="g"><svg width="34" height="33" viewBox="0 0 34 33" style="overflow:visible"><ellipse cx="17" cy="16.3" rx="16.1" ry="15.5" fill="#F6D04A" stroke="#2e1a2a" stroke-width="2"/><text transform="translate(19 26.4) scale(0.86 1)" text-anchor="middle" font-family="Liberation Sans" font-weight="bold" font-size="28" fill="#000" stroke="#000" stroke-width="0.6">G</text></svg></span></div><div class="icl" style="height:20px;align-items:flex-start"><span class="e0"><svg width="18" height="18" viewBox="0 0 18 18" style="overflow:visible"><text x="1.3" y="15.6" font-family="Liberation Sans" font-weight="bold" font-style="italic" font-size="25" fill="#E5362B" stroke="#D9332A" stroke-width="0.7" stroke-linejoin="round">e</text></svg></span></div></div></div>
<div class="c" style="left:2146px;top:1264px;width:244px;height:80px;background:#FFFFFF;"><div class="in"><div class="ln" style="height:36px"><b>9:PMT</b> <span class="a">Sorting</span></div><div class="icl" style="height:40px"><span class="g"><svg width="34" height="33" viewBox="0 0 34 33" style="overflow:visible"><ellipse cx="17" cy="16.3" rx="16.1" ry="15.5" fill="#F6D04A" stroke="#2e1a2a" stroke-width="2"/><text transform="translate(19 26.4) scale(0.86 1)" text-anchor="middle" font-family="Liberation Sans" font-weight="bold" font-size="28" fill="#000" stroke="#000" stroke-width="0.6">G</text></svg></span><span class="sp"></span><span class="e"><svg width="18" height="18" viewBox="0 0 18 18" style="overflow:visible"><text x="1.3" y="15.6" font-family="Liberation Sans" font-weight="bold" font-style="italic" font-size="25" fill="#E5362B" stroke="#D9332A" stroke-width="0.7" stroke-linejoin="round">e</text></svg></span></div></div></div>
<div style="position:absolute;left:0;top:1284px;width:2868px;height:70px;background:linear-gradient(to bottom, rgba(0,30,50,0) 0%, rgba(0,30,50,0.025) 50%, rgba(0,30,50,0.06) 100%);-webkit-mask-image:linear-gradient(to right, rgba(0,0,0,0.3) 0px, #000 160px, #000 2450px, rgba(0,0,0,0) 2800px);pointer-events:none"></div>
</body></html>
